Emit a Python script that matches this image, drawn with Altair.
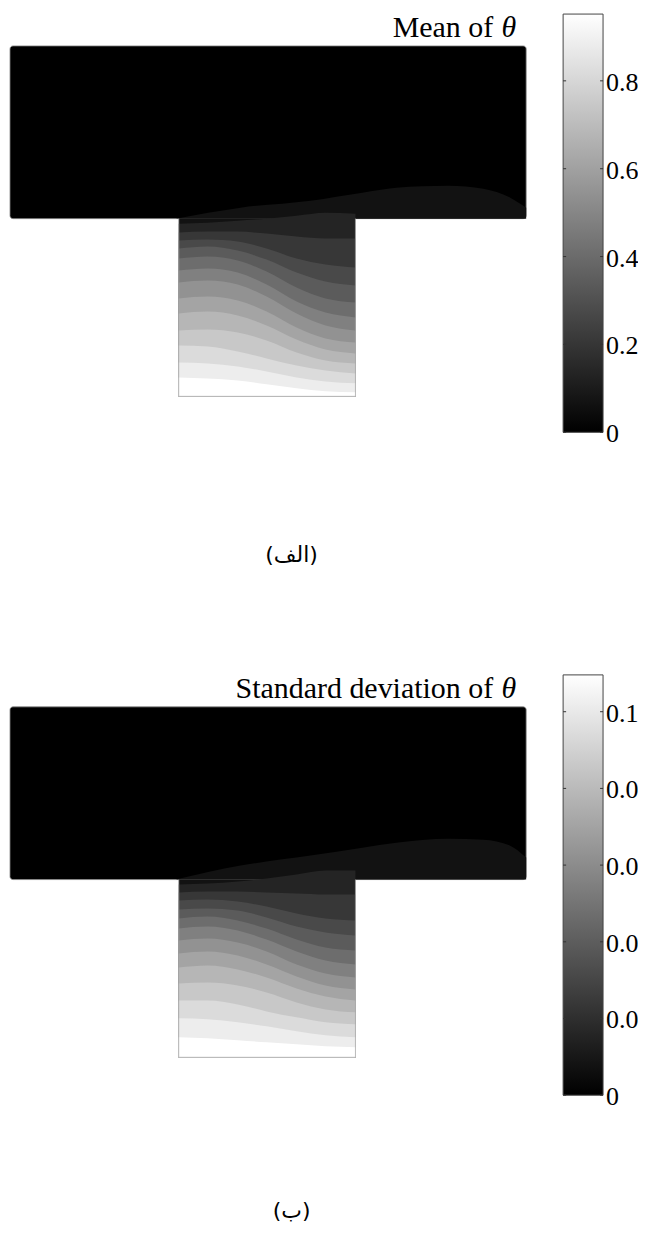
import altair as alt
import pandas as pd

# ---------------- data ----------------
# T-shaped domain (x to the right, y upwards, stem bottom = 0)
rect_x = [0, 517]
rect_y = [178, 351]
stem_x = [169, 346]
stem_y = [0, 178]

# x positions across the stem where contour lines were read
stem_pts = [169, 198, 228, 257, 287, 316, 346]

# ---- panel (a): mean ----
mean_hump_x = [166, 231, 301, 353, 387, 439, 474, 501, 517]
mean_hump_y = [178, 189, 196, 204, 209, 211, 208, 199, 189]
mean_l2 = [173, 174, 176, 178, 181, 184, 183]
mean_l3 = [164, 165, 165, 163, 160, 158, 158]
mean_l4 = [156, 157, 155, 148, 138, 132, 129]
mean_l5 = [148, 150, 146, 137, 124, 115, 111]
mean_l6 = [138, 140, 136, 125, 109, 98, 94]
mean_l7 = [126, 128, 124, 112, 95, 84, 79]
mean_l8 = [114, 116, 112, 100, 83, 71, 66]
mean_l9 = [98, 100, 96, 85, 69, 58, 54]
mean_l10 = [83, 85, 81, 71, 57, 47, 43]
mean_l11 = [66, 67, 64, 56, 44, 36, 33]
mean_l12 = [51, 50, 45, 38, 31, 26, 23]
mean_l13 = [34, 33, 30, 25, 19, 15, 13]
mean_l14 = [19, 18, 16, 12, 8, 5, 4]
mean_lines = [mean_l2, mean_l3, mean_l4, mean_l5, mean_l6, mean_l7, mean_l8,
              mean_l9, mean_l10, mean_l11, mean_l12, mean_l13, mean_l14]
mean_cbar_max = 0.952
mean_cbar_ticks = [0, 0.2, 0.4, 0.6, 0.8]
mean_cbar_labels = ["0", "0.2", "0.4", "0.6", "0.8"]

# ---- panel (b): standard deviation ----
std_hump_x = [166, 231, 301, 353, 387, 439, 474, 501, 517]
std_hump_y = [178, 192, 202, 210, 215, 219, 218, 212, 200]
std_l2 = [173, 174, 176, 179, 183, 187, 187]
std_l3 = [165, 166, 166, 165, 164, 163, 163]
std_l4 = [157, 158, 156, 151, 144, 139, 137]
std_l5 = [148, 149, 147, 140, 131, 125, 122]
std_l6 = [139, 141, 137, 129, 118, 110, 107]
std_l7 = [129, 131, 127, 118, 106, 97, 93]
std_l8 = [117, 119, 115, 106, 93, 84, 80]
std_l9 = [104, 106, 102, 93, 81, 72, 68]
std_l10 = [90, 92, 88, 80, 69, 61, 57]
std_l11 = [74, 75, 72, 65, 55, 48, 45]
std_l12 = [57, 57, 53, 46, 40, 35, 33]
std_l13 = [39, 38, 35, 31, 26, 22, 20]
std_l14 = [20, 19, 17, 15, 13, 11, 10]
std_lines = [std_l2, std_l3, std_l4, std_l5, std_l6, std_l7, std_l8,
             std_l9, std_l10, std_l11, std_l12, std_l13, std_l14]
std_cbar_max = 0.1096
std_cbar_ticks = [0, 0.02, 0.04, 0.06, 0.08, 0.1]
std_cbar_labels = ["0", "0.02", "0.04", "0.06", "0.08", "0.1"]

N_BANDS = 15  # band 0 (black) ... band 14 (white)


def gray(k):
    g = round(k * 255 / (N_BANDS - 1))
    return "#%02x%02x%02x" % (g, g, g)


def panel(hump_x, hump_y, lines, title_main, caption, y_dom, height, cap_y):
    xs = alt.Scale(domain=[-2, 521], nice=False, zero=False)
    ys = alt.Scale(domain=y_dom, nice=False, zero=False)
    X = lambda f: alt.X(f, scale=xs, axis=None)
    Y = lambda f: alt.Y(f, scale=ys, axis=None)

    layers = []
    # black T domain (band 0)
    geo_rect = pd.DataFrame({"x": [rect_x[0]], "x2": [rect_x[1]],
                             "y": [rect_y[0]], "y2": [rect_y[1]]})
    layers.append(alt.Chart(geo_rect).mark_rect(
        color="black", cornerRadius=3, stroke="#8a8a8a", strokeWidth=0.8
    ).encode(x=X("x:Q"), x2="x2:Q", y=Y("y:Q"), y2="y2:Q"))

    # band 1: hump in the upper part + whole stem
    hump = pd.DataFrame({"x": hump_x, "y": hump_y, "y2": [rect_y[0]] * len(hump_x)})
    layers.append(alt.Chart(hump).mark_area(color=gray(1), interpolate="monotone")
                  .encode(x=X("x:Q"), y=Y("y:Q"), y2="y2:Q"))
    geo_stem = pd.DataFrame({"x": [stem_x[0]], "x2": [stem_x[1]],
                             "y": [stem_y[0]], "y2": [stem_y[1]]})
    layers.append(alt.Chart(geo_stem).mark_rect(color=gray(1))
                  .encode(x=X("x:Q"), x2="x2:Q", y=Y("y:Q"), y2="y2:Q"))

    # bands 2..14 in the stem (each fills from its upper contour down)
    for k, line in enumerate(lines, start=2):
        df = pd.DataFrame({"x": stem_pts, "y": line, "y2": [stem_y[0]] * len(line)})
        layers.append(alt.Chart(df).mark_area(color=gray(k), interpolate="monotone")
                      .encode(x=X("x:Q"), y=Y("y:Q"), y2="y2:Q"))

    # thin outline of the stem
    outline = pd.DataFrame({"x": [stem_x[0], stem_x[0], stem_x[1], stem_x[1]],
                            "y": [stem_y[1], stem_y[0], stem_y[0], stem_y[1]],
                            "o": [0, 1, 2, 3]})
    layers.append(alt.Chart(outline).mark_line(color="#b0b0b0", strokeWidth=0.8)
                  .encode(x=X("x:Q"), y=Y("y:Q"), order="o:Q"))

    # title (right aligned) with italic theta
    layers.append(alt.Chart(pd.DataFrame({"t": [title_main]})).mark_text(
        align="right", baseline="alphabetic", font="Liberation Serif",
        fontSize=30, color="black"
    ).encode(text="t:N", x=alt.value(486), y=alt.value(28)))
    layers.append(alt.Chart(pd.DataFrame({"t": ["θ"]})).mark_text(
        align="right", baseline="alphabetic", font="Liberation Serif",
        fontSize=30, fontStyle="italic", color="black"
    ).encode(text="t:N", x=alt.value(509), y=alt.value(28)))

    # caption
    layers.append(alt.Chart(pd.DataFrame({"t": [caption]})).mark_text(
        align="center", baseline="middle", font="DejaVu Sans",
        fontSize=22, color="black"
    ).encode(text="t:N", x=alt.value(284), y=alt.value(cap_y)))

    return alt.layer(*layers).properties(width=523, height=height)


def colorbar(vmax, dom, height, ticks, labels):
    ys = alt.Scale(domain=dom, nice=False, zero=False)
    grad = {"gradient": "linear",
            "stops": [{"offset": 0, "color": "black"}, {"offset": 1, "color": "white"}],
            "x1": 0, "y1": 1, "x2": 0, "y2": 0}
    bar = alt.Chart(pd.DataFrame({"lo": [0], "hi": [vmax]})).mark_rect(
        color=grad, stroke="#444444", strokeWidth=1
    ).encode(
        x=alt.value(0), x2=alt.value(40),
        y=alt.Y("lo:Q", scale=ys, axis=None),
        y2="hi:Q")
    tdf = pd.DataFrame({"v": ticks, "lab": labels})
    t_left = alt.Chart(tdf).mark_rule(color="#333333", strokeWidth=1).encode(
        y=alt.Y("v:Q", scale=ys, axis=None), x=alt.value(0), x2=alt.value(3))
    t_right = alt.Chart(tdf).mark_rule(color="#333333", strokeWidth=1).encode(
        y=alt.Y("v:Q", scale=ys, axis=None), x=alt.value(37), x2=alt.value(40))
    labs = alt.Chart(tdf).mark_text(
        align="left", baseline="middle", font="Liberation Serif", fontSize=26,
        color="black", clip=True, dy=2
    ).encode(y=alt.Y("v:Q", scale=ys, axis=None), x=alt.value(43), text="lab:N")
    return alt.layer(bar, t_left, t_right, labs).properties(width=75, height=height)


row1 = alt.hconcat(
    panel(mean_hump_x, mean_hump_y, mean_lines, "Mean of", "(الف)",
          [-274, 388], 662, 547),
    colorbar(mean_cbar_max, [-0.0409, 0.9636], 442, mean_cbar_ticks, mean_cbar_labels),
    spacing=32)
row2 = alt.hconcat(
    panel(std_hump_x, std_hump_y, std_lines, "Standard deviation of", "(ب)",
          [-170, 388], 558, 542),
    colorbar(std_cbar_max, [-0.0047, 0.1109], 444, std_cbar_ticks, std_cbar_labels),
    spacing=32)

chart = alt.vconcat(row1, row2, spacing=0).properties(
    padding=0, background="white"
).configure_view(stroke=None)

chart.save("out.html", embed_options={"renderer": "svg", "actions": False})
